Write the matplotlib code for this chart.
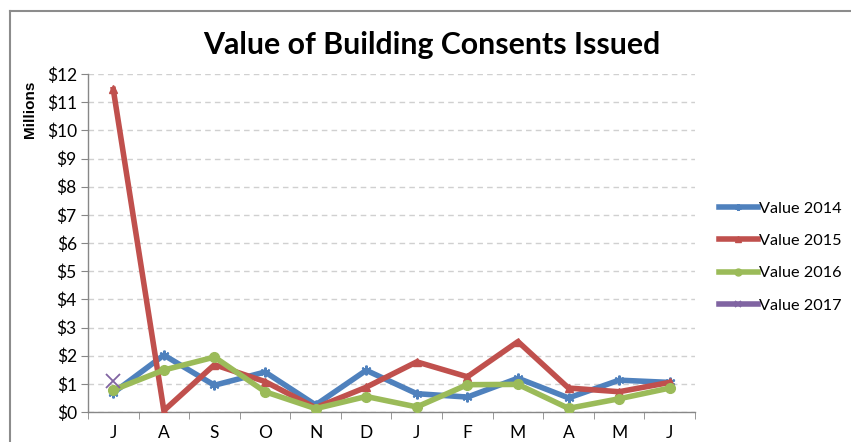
import matplotlib
matplotlib.use("Agg")
import matplotlib.pyplot as plt
from matplotlib.lines import Line2D
import numpy as np

months = ["J", "A", "S", "O", "N", "D", "J", "F", "M", "A", "M", "J"]
v2014 = [0.68, 2.02, 0.95, 1.42, 0.25, 1.48, 0.65, 0.53, 1.2, 0.5, 1.13, 1.05]
v2015 = [11.45, 0.05, 1.68, 1.08, 0.15, 0.88, 1.78, 1.25, 2.5, 0.85, 0.72, 1.05]
v2016 = [0.78, 1.49, 1.95, 0.72, 0.12, 0.55, 0.18, 0.97, 0.98, 0.13, 0.47, 0.85]
v2017 = [1.1]
yticks = [0, 1, 2, 3, 4, 5, 6, 7, 8, 9, 10, 11, 12]
ytick_labels = ["$" + str(v) for v in yticks]

W, H = 851, 442
fig = plt.figure(figsize=(W / 100, H / 100), dpi=100)
ax = fig.add_axes([88 / W, 1 - 412 / H, (695 - 88) / W, (412 - 74) / H])

font = "Lato"
x = np.arange(len(months))
ax.plot(x, v2014, color="#4F81BD", lw=4, marker=(6, 2, 0), ms=7, mew=1.5, label="Value 2014", zorder=3)
ax.plot(x, v2015, color="#C0504D", lw=4, marker="^", ms=6, label="Value 2015", zorder=4)
ax.plot(x, v2016, color="#9BBB59", lw=4, marker="o", ms=7, label="Value 2016", zorder=5)
ax.plot(x[:len(v2017)], v2017, color="#8064A2", lw=4, marker="x", ms=10, mew=1.3, label="Value 2017", zorder=6)

ax.set_xlim(-0.5, len(months) - 0.5)
ax.set_ylim(0, 12)
ax.set_yticks(yticks)
ax.set_yticklabels(ytick_labels, fontfamily=font, fontsize=12.5)
ax.set_xticks(x)
ax.set_xticklabels(months, fontfamily=font, fontsize=12.5)
ax.set_xticks(np.arange(-0.5, len(months)), minor=True)
ax.tick_params(axis="x", which="major", length=0, pad=9)
ax.tick_params(axis="x", which="minor", length=5, color="#878787", direction="out")
ax.tick_params(axis="y", length=5, color="#878787", direction="out", pad=3)
ax.grid(axis="y", color="#D0D0D0", ls=(0, (4, 3)), lw=1)
ax.set_axisbelow(True)
for s in ["top", "right"]:
    ax.spines[s].set_visible(False)
for s in ["left", "bottom"]:
    ax.spines[s].set_color("#878787")
    ax.spines[s].set_linewidth(1)

fig.text(30 / W, 1 - 109 / H, "Millions", rotation=90, ha="center", va="center",
         fontfamily="Liberation Sans", fontweight="bold", fontsize=11)
fig.text(432 / W, 1 - 45 / H, "Value of Building Consents Issued", ha="center", va="center",
         fontfamily=font, fontweight="bold", fontsize=21.8)

leg = fig.legend(loc="upper left", bbox_to_anchor=(712 / W, 1 - 195 / H), frameon=False,
                 prop={"family": font, "size": 11.7}, handlelength=2.4, handletextpad=0.1,
                 labelspacing=1.1, borderaxespad=0)
for h in leg.legend_handles:
    h.set_markersize(5)

# frame lines
fig.add_artist(Line2D([9.5 / W, 9.5 / W], [0, 1 - 10.5 / H], color="#8C8C8C", lw=1.5))
fig.add_artist(Line2D([9.5 / W, 1], [1 - 10.5 / H, 1 - 10.5 / H], color="#8C8C8C", lw=1.5))

fig.savefig("out.png", dpi=100)
